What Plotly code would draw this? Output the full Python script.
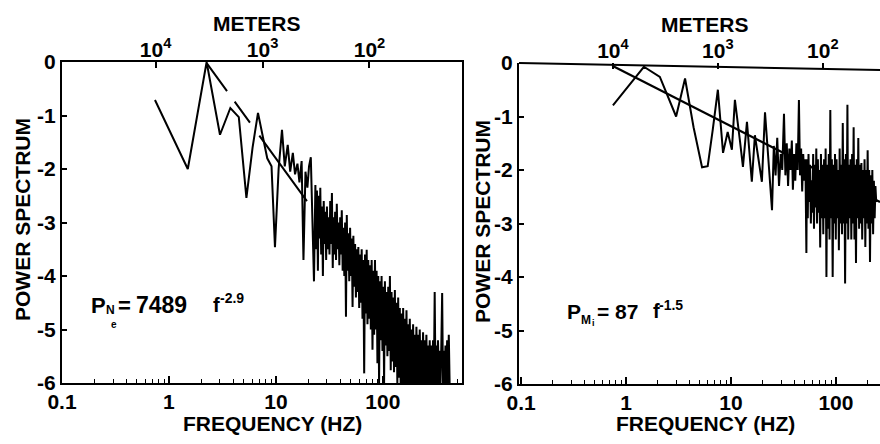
import plotly.graph_objects as go

# ---------------- data ----------------
# Left panel: electron density spectrum, log10 power vs frequency (Hz)
LEFT_FREQ_LOW = [0.74, 1.5, 2.25, 3.0, 3.75, 4.5, 5.3, 6.05, 6.8, 7.55,
                 8.3, 9.1, 9.8, 10.6, 11.4, 12.1, 12.9, 13.6, 14.4, 15.1,
                 15.9, 16.6, 17.4, 18.1, 18.9, 19.7, 20.4, 21.2, 21.9, 22.7]
LEFT_POW_LOW = [-0.71, -2.0, 0.0, -1.36, -0.86, -1.03, -2.54, -1.6, -0.95, -1.4,
                -1.8, -1.95, -3.46, -2.0, -1.27, -1.95, -1.55, -2.05, -1.7, -2.1,
                -1.9, -2.25, -1.85, -3.7, -2.05, -2.35, -1.95, -1.78, -3.0, -4.1]

LEFT_FREQ_HIGH = [23.4, 23.8, 24.2, 24.7, 25.1, 25.6, 26.0, 26.5, 27.0, 27.5,
                  28.0, 28.5, 29.0, 29.5, 30.0, 30.6, 31.1, 31.7, 32.2, 32.8,
                  33.4, 34.0, 34.6, 35.2, 35.8, 36.5, 37.1, 37.8, 38.5, 39.2,
                  39.9, 40.6, 41.3, 42.1, 42.8, 43.6, 44.4, 45.2, 46.0, 46.8,
                  47.7, 48.5, 49.4, 50.3, 51.2, 52.1, 53.0, 54.0, 55.0, 56.0,
                  57.0, 58.0, 59.0, 60.1, 61.2, 62.3, 63.4, 64.5, 65.7, 66.9,
                  68.1, 69.3, 70.6, 71.8, 73.1, 74.5, 75.8, 77.2, 78.6, 80.0,
                  81.4, 82.9, 84.4, 85.9, 87.4, 89.0, 90.6, 92.2, 93.9, 95.6,
                  97.3, 99.1, 100.9, 102.7, 104.5, 106.4, 108.3, 110.3, 112.3, 114.3,
                  116.4, 118.5, 120.6, 122.8, 125.0, 127.2, 129.5, 131.8, 134.2, 136.6,
                  139.1, 141.6, 144.1, 146.7, 149.4, 152.1, 154.8, 157.6, 160.4, 163.3,
                  166.3, 169.3, 172.3, 175.4, 178.6, 181.8, 185.1, 188.4, 191.8, 195.3,
                  198.8, 202.4, 206.0, 209.7, 213.5, 217.4, 221.3, 225.3, 229.3, 233.5,
                  237.7, 242.0, 246.3, 250.8, 255.3, 259.9, 264.6, 269.3, 274.2, 279.1,
                  284.2, 289.3, 294.5, 299.8, 305.2, 310.7, 316.3, 322.0, 327.8, 333.7,
                  339.8, 345.9, 352.1, 358.5, 364.9, 371.5, 378.2, 385.0, 392.0, 399.0,
                  406.2, 413.5, 421.0]
LEFT_POW_HIGH = [-2.3, -3.5, -2.4, -3.9, -2.5, -3.3, -2.35, -3.6, -2.7, -4.0,
                 -2.6, -3.4, -2.8, -3.7, -2.7, -3.5, -2.9, -3.6, -2.6, -3.4,
                 -2.45, -3.85, -2.9, -3.6, -2.8, -3.7, -2.65, -3.5, -3.0, -3.8,
                 -2.9, -3.6, -2.77, -3.9, -3.1, -4.0, -3.0, -4.76, -2.86, -3.9,
                 -3.2, -4.1, -3.1, -4.0, -3.3, -4.58, -3.25, -4.2, -3.4, -4.4,
                 -3.5, -4.3, -3.46, -4.6, -3.6, -4.5, -3.5, -4.8, -3.7, -5.82,
                 -3.6, -4.7, -3.51, -4.9, -3.7, -4.8, -3.8, -5.0, -3.7, -5.38,
                 -3.9, -5.1, -3.7, -5.0, -3.9, -5.63, -4.0, -6.0, -4.1, -5.2,
                 -4.0, -5.4, -4.2, -6.0, -4.1, -5.3, -4.3, -5.5, -4.2, -5.4,
                 -4.0, -5.76, -4.3, -5.6, -4.4, -5.8, -4.26, -5.7, -4.5, -6.0,
                 -4.4, -5.9, -4.6, -6.0, -4.7, -6.0, -4.6, -6.0, -4.8, -6.0,
                 -4.64, -6.0, -4.9, -6.0, -4.8, -6.0, -5.0, -6.0, -4.9, -6.0,
                 -5.1, -6.0, -4.95, -6.0, -5.1, -6.0, -5.0, -6.0, -5.2, -6.0,
                 -5.05, -6.0, -5.2, -6.0, -5.1, -6.0, -5.3, -6.0, -5.2, -6.0,
                 -5.3, -6.0, -5.2, -6.0, -4.3, -6.0, -5.3, -6.0, -5.2, -6.0,
                 -5.4, -6.0, -5.3, -4.32, -6.0, -5.4, -6.0, -5.3, -6.0, -5.2,
                 -6.0, -5.1, -6.0]

LEFT_FIT_FREQ = [2.27, 19.5]
LEFT_FIT_POW = [-0.03, -2.6]

# Right panel: ion mass spectrum
RIGHT_FREQ_LOW = [0.75, 1.48, 2.1, 3.0, 3.65, 4.4, 5.3, 6.0, 6.7, 7.5,
                  8.4, 9.3, 10.2, 10.9, 12.2, 13.0, 14.2, 15.8, 16.9, 18.1,
                  19.7, 21.1, 22.5, 24.6, 25.6, 26.6, 27.6, 28.7, 29.8, 30.8,
                  32.0, 33.0, 34.0, 35.0, 36.0, 37.0, 38.0, 38.9, 40.0, 41.0,
                  42.0, 43.2, 44.4, 45.5, 46.6, 47.7, 48.8, 50.0, 51.2, 52.3]
RIGHT_POW_LOW = [-0.79, -0.07, -0.26, -1.0, -0.29, -1.2, -1.95, -1.93, -1.25, -0.5,
                 -1.68, -1.29, -1.62, -0.69, -1.47, -1.94, -1.1, -2.22, -1.35, -1.72,
                 -2.22, -0.92, -1.67, -2.75, -1.55, -2.1, -1.4, -2.3, -1.7, -2.0,
                 -0.95, -2.1, -1.5, -2.3, -1.6, -2.0, -1.45, -2.37, -1.7, -2.2,
                 -1.5, -2.0, -0.69, -2.1, -1.6, -2.4, -1.7, -2.2, -1.8, -3.55]

RIGHT_FREQ_HIGH = [53.0, 53.9, 54.8, 55.8, 56.7, 57.7, 58.7, 59.7, 60.7, 61.8,
                   62.8, 63.9, 65.0, 66.1, 67.3, 68.4, 69.6, 70.8, 72.0, 73.3,
                   74.5, 75.8, 77.1, 78.5, 79.8, 81.2, 82.6, 84.0, 85.5, 86.9,
                   88.4, 89.9, 91.5, 93.1, 94.7, 96.3, 98.0, 99.7, 101.4, 103.1,
                   104.9, 106.7, 108.5, 110.4, 112.3, 114.2, 116.2, 118.2, 120.2, 122.3,
                   124.4, 126.5, 128.7, 130.9, 133.2, 135.5, 137.8, 140.2, 142.6, 145.0,
                   147.5, 150.1, 152.7, 155.3, 158.0, 160.7, 163.4, 166.3, 169.1, 172.0,
                   175.0, 178.0, 181.1, 184.2, 187.4, 190.6, 193.9, 197.2, 200.6, 204.1,
                   207.6, 211.2, 214.8, 218.5, 222.3, 226.1, 230.0, 234.0, 238.0, 242.1]
RIGHT_POW_HIGH = [-1.8, -2.9, -1.7, -2.6, -1.9, -3.0, -2.19, -2.8, -1.7, -3.1,
                  -1.9, -2.7, -1.6, -3.0, -1.8, -2.8, -2.0, -3.45, -1.7, -2.9,
                  -1.9, -3.2, -1.8, -2.9, -1.6, -4.0, -1.9, -3.1, -1.7, -3.3,
                  -0.88, -2.9, -1.8, -4.0, -1.9, -3.0, -1.7, -3.3, -1.8, -2.9,
                  -2.0, -3.5, -1.6, -3.0, -1.9, -3.2, -1.12, -3.0, -1.8, -4.12,
                  -1.7, -3.0, -0.78, -3.3, -1.9, -2.9, -1.8, -3.3, -1.7, -3.0,
                  -1.2, -3.3, -1.9, -3.74, -1.8, -2.9, -1.4, -3.1, -1.9, -3.0,
                  -1.87, -3.3, -2.0, -2.9, -1.8, -3.44, -2.0, -3.0, -1.63, -3.1,
                  -2.0, -3.72, -2.1, -3.0, -2.0, -3.2, -2.2, -2.9, -2.3, -2.6]

RIGHT_FIT_FREQ = [0.74, 263.0]
RIGHT_FIT_POW = [-0.05, -2.6]

# Axis tick labels
FREQ_TICKS = [0.1, 1, 10, 100]
FREQ_TICK_TEXT = ["0.1", "1", "10", "100"]
MINOR_TICKS = [0.2, 0.3, 0.4, 0.5, 0.6, 0.7, 0.8, 0.9,
               2, 3, 4, 5, 6, 7, 8, 9,
               20, 30, 40, 50, 60, 70, 80, 90,
               200, 300, 400, 500]
POW_TICKS = [0, -1, -2, -3, -4, -5, -6]
POW_TICK_TEXT = ["0", "-1", "-2", "-3", "-4", "-5", "-6"]
METER_TICKS = [1e4, 1e3, 1e2]
METER_TICK_TEXT = ["10<sup>4</sup>", "10<sup>3</sup>", "10<sup>2</sup>"]
SPEED = 7500.0  # m/s, converts wavelength (m) to frequency (Hz)

# ---------------- figure ----------------
W, H = 880, 444
FONT = "Liberation Sans, Arial, Helvetica, sans-serif"


def px(x):
    return x / W


def py(y):
    return 1 - y / H


left_freq = LEFT_FREQ_LOW + LEFT_FREQ_HIGH
left_pow = LEFT_POW_LOW + LEFT_POW_HIGH
right_freq = RIGHT_FREQ_LOW + RIGHT_FREQ_HIGH
right_pow = RIGHT_POW_LOW + RIGHT_POW_HIGH
meter_freqs = [SPEED / m for m in METER_TICKS]

fig = go.Figure()
fig.add_trace(go.Scatter(x=left_freq, y=left_pow, mode="lines",
                         line=dict(color="black", width=2),
                         xaxis="x", yaxis="y", showlegend=False, hoverinfo="skip"))
fig.add_trace(go.Scatter(x=LEFT_FIT_FREQ, y=LEFT_FIT_POW, mode="lines",
                         line=dict(color="black", width=2, dash="34px,13px,26px,16px,400px"),
                         xaxis="x2", yaxis="y", showlegend=False, hoverinfo="skip"))
fig.add_trace(go.Scatter(x=right_freq, y=right_pow, mode="lines",
                         line=dict(color="black", width=2),
                         xaxis="x3", yaxis="y2", showlegend=False, hoverinfo="skip"))
fig.add_trace(go.Scatter(x=RIGHT_FIT_FREQ, y=RIGHT_FIT_POW, mode="lines",
                         line=dict(color="black", width=2.2),
                         xaxis="x4", yaxis="y2", showlegend=False, hoverinfo="skip"))

tickfont = dict(family=FONT, size=21, color="black", weight="bold")

L_DOM_X = [px(62), px(462)]
L_DOM_Y = [py(383), py(62)]
R_DOM_X = [px(519), 1.0]
R_DOM_Y = [py(384), py(63)]
L_RANGE = [-1.0, 2.74]
R_RANGE = [-1.02, 2.42]

common_x = dict(type="log", showgrid=False, zeroline=False, showline=True,
                automargin=False, ticklabelstandoff=-1,
                linecolor="black", linewidth=2, ticks="inside", ticklen=7,
                tickwidth=1.5, tickcolor="black", tickvals=FREQ_TICKS,
                ticktext=FREQ_TICK_TEXT, tickfont=tickfont,
                minor=dict(ticks="inside", ticklen=4, tickwidth=1.2,
                           tickcolor="black", tickvals=MINOR_TICKS, showgrid=False))
common_y = dict(range=[-6, 0], showgrid=False, zeroline=False, showline=True,
                automargin=False,
                linecolor="black", linewidth=2, ticks="inside", ticklen=5,
                tickwidth=1.5, tickcolor="black", tickvals=POW_TICKS,
                ticktext=POW_TICK_TEXT, tickfont=tickfont)
top_x = dict(type="log", side="top", showgrid=False, zeroline=False,
             automargin=False,
             showline=False, ticks="inside", ticklen=6, tickwidth=1.5,
             tickcolor="black", tickvals=meter_freqs, ticktext=METER_TICK_TEXT,
             tickfont=tickfont)

fig.update_layout(
    width=W, height=H, autosize=False,
    margin=dict(l=0, r=0, t=0, b=0, pad=0, autoexpand=False),
    paper_bgcolor="white", plot_bgcolor="white",
    showlegend=False,
    xaxis=dict(common_x, domain=L_DOM_X, range=L_RANGE, anchor="y", mirror=True),
    yaxis=dict(common_y, domain=L_DOM_Y, anchor="x", mirror=True),
    xaxis2=dict(top_x, range=L_RANGE, overlaying="x", anchor="y"),
    xaxis3=dict(common_x, domain=R_DOM_X, range=R_RANGE, anchor="y2"),
    yaxis2=dict(common_y, domain=R_DOM_Y, anchor="x3"),
    xaxis4=dict(top_x, range=R_RANGE, overlaying="x3", anchor="y2"),
)

# tilted top border of the right panel (as in the scan)
fig.add_shape(type="line", xref="paper", yref="paper",
              x0=px(519), y0=py(63), x1=1.0, y1=py(70),
              line=dict(color="black", width=2))


def ann(text, x, y, size, xanchor="center", yanchor="middle", angle=0):
    fig.add_annotation(text=text, x=px(x), y=py(y), xref="paper", yref="paper",
                       xanchor=xanchor, yanchor=yanchor, showarrow=False,
                       textangle=angle, borderpad=0,
                       font=dict(family=FONT, size=size, color="black", weight="bold"))


# axis titles
ann("METERS", 257, 23, 21)
ann("METERS", 705, 25, 21)
ann("FREQUENCY (HZ)", 272, 423, 21)
ann("FREQUENCY (HZ)", 705, 423, 21)
ann("POWER SPECTRUM", 22, 220, 21, angle=-90)
ann("POWER SPECTRUM", 482, 222, 21, angle=-90)

# fit formulas
ann("P", 90, 305, 22, xanchor="left")
ann("N", 105, 310, 12, xanchor="left")
ann("e", 110, 324, 10, xanchor="left")
ann("=", 117, 305, 22, xanchor="left")
ann("7489", 135, 305, 23, xanchor="left")
ann("f", 212, 305, 20, xanchor="left")
ann("-2.9", 219, 298, 14, xanchor="left")

ann("P", 566, 311, 21, xanchor="left")
ann("M", 580, 320, 12, xanchor="left")
ann("i", 591, 323, 9, xanchor="left")
ann("= 87", 596, 311, 21, xanchor="left")
ann("f", 652, 311, 20, xanchor="left")
ann("-1.5", 658, 305, 14, xanchor="left")

fig.write_html("out.html")
